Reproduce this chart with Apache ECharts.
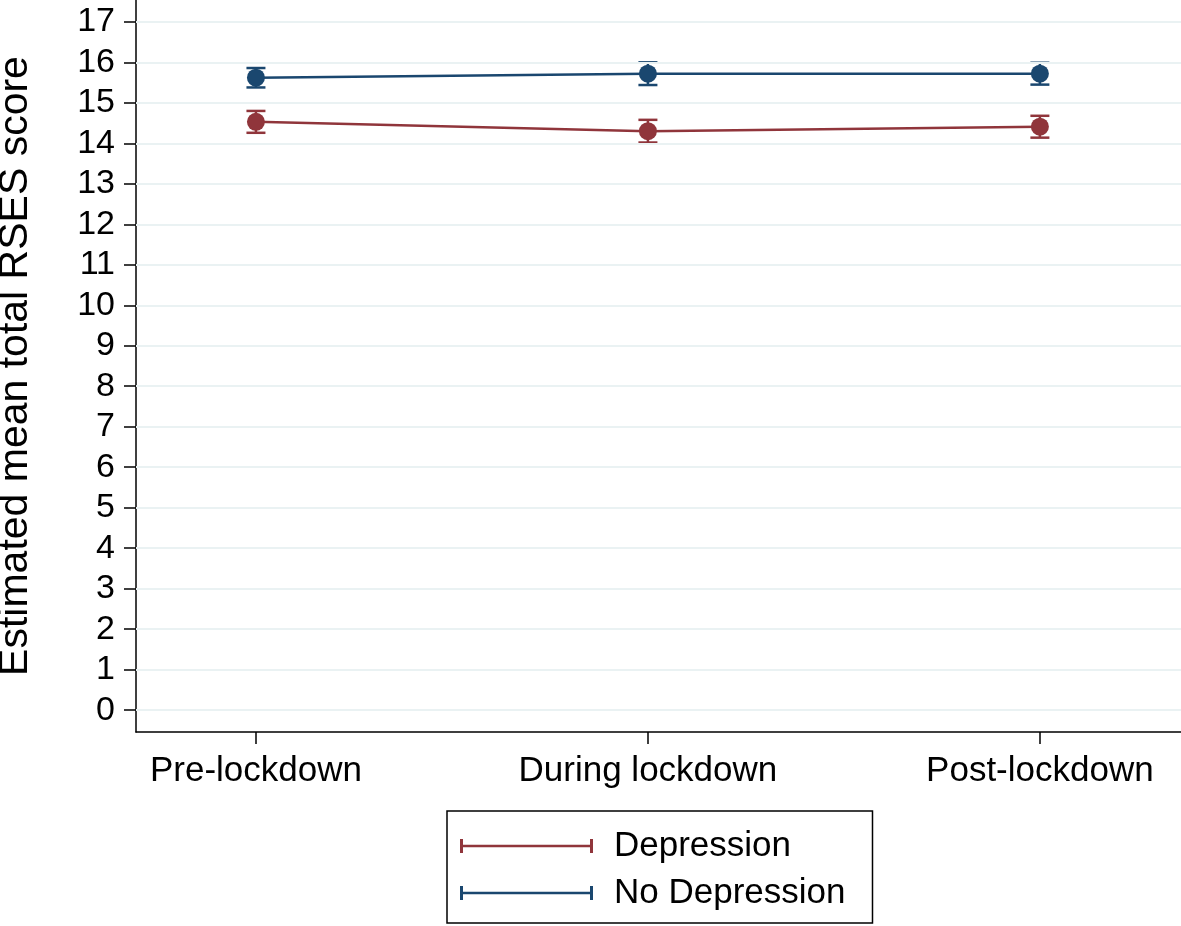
<!DOCTYPE html>
<html>
<head>
<meta charset="utf-8">
<script src="https://cdn.jsdelivr.net/npm/echarts@6/dist/echarts.min.js"></script>
<style>html,body{margin:0;padding:0;background:#fff}#c{width:1181px;height:926px}</style>
</head>
<body>
<div id="c"></div>
<script>
const categories = ['Pre-lockdown', 'During lockdown', 'Post-lockdown'];
const categoryPos = [1, 2, 3];
const yTicks = [0,1,2,3,4,5,6,7,8,9,10,11,12,13,14,15,16,17];
const depMean = [14.53, 14.30, 14.41];
const depLow = [14.26, 14.02, 14.14];
const depHigh = [14.80, 14.58, 14.68];
const noDepMean = [15.62, 15.72, 15.72];
const noDepLow = [15.38, 15.44, 15.45];
const noDepHigh = [15.86, 16.00, 15.99];

const RED = '#90353b';
const BLUE = '#1a476f';
const FONT = 'Liberation Sans';

function errData(lo, hi) { return categoryPos.map((x, i) => [x, lo[i], hi[i]]); }
function lineData(m) { return categoryPos.map((x, i) => [x, m[i]]); }

function errRender(color) {
  return function (params, api) {
    const x = api.value(0);
    const lo = api.coord([x, api.value(1)]);
    const hi = api.coord([x, api.value(2)]);
    const hw = 9.5;
    const st = { stroke: color, lineWidth: 2.5 };
    return { type: 'group', children: [
      { type: 'line', shape: { x1: lo[0], y1: lo[1], x2: hi[0], y2: hi[1] }, style: st },
      { type: 'line', shape: { x1: lo[0] - hw, y1: lo[1], x2: lo[0] + hw, y2: lo[1] }, style: st },
      { type: 'line', shape: { x1: hi[0] - hw, y1: hi[1], x2: hi[0] + hw, y2: hi[1] }, style: st }
    ]};
  };
}

const iconPath = 'path://M0,0h3v14h-3z M3,5.75h127v2.5h-127z M130,0h3v14h-3z';

const chart = echarts.init(document.getElementById('c'), null, { renderer: 'canvas' });
chart.setOption({
  animation: false,
  backgroundColor: '#fff',
  textStyle: { fontFamily: FONT },
  grid: { left: 136, right: 0, top: 0, bottom: 194, containLabel: false, outerBoundsMode: 'none' },
  xAxis: {
    type: 'value', min: 0.694, max: 3.36,
    axisLine: { show: true, onZero: false, lineStyle: { color: '#000', width: 1.5 } },
    axisTick: { show: true, customValues: categoryPos, length: 12, lineStyle: { color: '#000', width: 1.5 } },
    axisLabel: { customValues: categoryPos, margin: 22, fontSize: 35, color: '#000', fontFamily: FONT,
      formatter: v => categories[Math.round(v) - 1] },
    splitLine: { show: false }
  },
  yAxis: {
    type: 'value', min: -0.54, max: 17.54,
    name: 'Estimated mean total RSES score', nameLocation: 'middle', nameGap: 100,
    nameTextStyle: { fontSize: 41, color: '#000', fontFamily: FONT },
    axisLine: { show: true, lineStyle: { color: '#000', width: 1.5 } },
    axisTick: { show: true, customValues: yTicks, length: 12, lineStyle: { color: '#000', width: 1.5 } },
    axisLabel: { customValues: yTicks, margin: 21, fontSize: 34, color: '#000', fontFamily: FONT },
    splitLine: { show: false }
  },
  legend: {
    orient: 'vertical', left: 447, top: 811,
    padding: [15, 27, 10, 13], itemGap: 7,
    borderColor: '#000', borderWidth: 1.5,
    itemWidth: 133, itemHeight: 14,
    textStyle: { fontSize: 35, color: '#000', fontFamily: FONT, lineHeight: 40, padding: [0, 0, 0, 16] },
    data: [{ name: 'Depression', icon: iconPath }, { name: 'No Depression', icon: iconPath }]
  },
  series: [
    { type: 'line', name: '_grid', data: [], silent: true, z: 0,
      markLine: { silent: true, symbol: 'none', label: { show: false },
        lineStyle: { color: '#eaf2f3', width: 2, type: 'solid' },
        data: yTicks.map(v => ({ yAxis: v })) } },
    { type: 'custom', name: 'Depression', data: errData(depLow, depHigh), renderItem: errRender(RED),
      itemStyle: { color: RED }, z: 2 },
    { type: 'custom', name: 'No Depression', data: errData(noDepLow, noDepHigh), renderItem: errRender(BLUE),
      itemStyle: { color: BLUE }, z: 2 },
    { type: 'line', name: 'Depression', data: lineData(depMean), symbol: 'circle', symbolSize: 18,
      lineStyle: { color: RED, width: 2.5 }, itemStyle: { color: RED }, z: 3 },
    { type: 'line', name: 'No Depression', data: lineData(noDepMean), symbol: 'circle', symbolSize: 18,
      lineStyle: { color: BLUE, width: 2.5 }, itemStyle: { color: BLUE }, z: 3 }
  ]
});
</script>
</body>
</html>
